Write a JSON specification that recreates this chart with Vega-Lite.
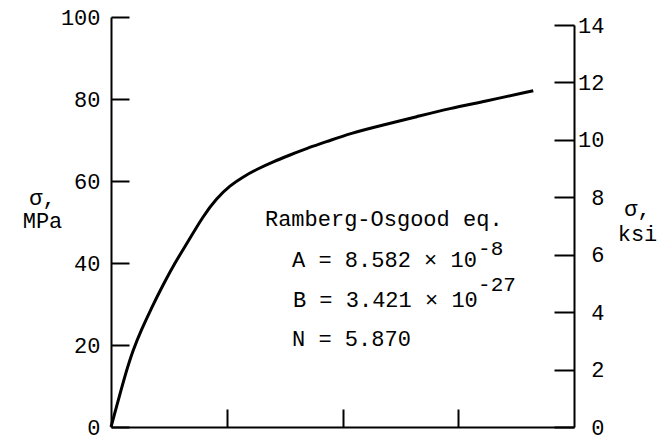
{
  "$schema": "https://vega.github.io/schema/vega-lite/v6.json",
  "width": 463,
  "height": 410,
  "autosize": {"type": "none"},
  "padding": {"left": 111, "top": 17, "right": 87, "bottom": 12},
  "background": "white",
  "config": {
    "view": {"stroke": null},
    "axis": {
      "grid": false,
      "domainColor": "black",
      "tickColor": "black",
      "labelColor": "black",
      "titleColor": "black",
      "labelFont": "Liberation Mono",
      "titleFont": "Liberation Mono",
      "labelFontSize": 22,
      "titleFontSize": 22,
      "titleFontWeight": "normal",
      "domainWidth": 2,
      "tickWidth": 2
    }
  },
  "layer": [
    {
      "layer": [
        {
          "data": {"values": [
            {"strain": 0, "stress": 0},
            {"strain": 0.06, "stress": 6.2},
            {"strain": 0.118, "stress": 12.27},
            {"strain": 0.19, "stress": 18.78},
            {"strain": 0.262, "stress": 23.66},
            {"strain": 0.348, "stress": 28.95},
            {"strain": 0.449, "stress": 34.63},
            {"strain": 0.55, "stress": 39.93},
            {"strain": 0.665, "stress": 45.2},
            {"strain": 0.797, "stress": 51.5},
            {"strain": 0.913, "stress": 55.8},
            {"strain": 1.028, "stress": 58.9},
            {"strain": 1.143, "stress": 61.05},
            {"strain": 1.259, "stress": 62.85},
            {"strain": 1.402, "stress": 64.71},
            {"strain": 1.546, "stress": 66.34},
            {"strain": 1.691, "stress": 67.98},
            {"strain": 1.864, "stress": 69.59},
            {"strain": 2.065, "stress": 71.63},
            {"strain": 2.352, "stress": 73.66},
            {"strain": 2.641, "stress": 75.68},
            {"strain": 2.929, "stress": 77.73},
            {"strain": 3.216, "stress": 79.34},
            {"strain": 3.648, "stress": 82.02}
          ]},
          "mark": {"type": "line", "color": "black", "strokeWidth": 3, "interpolate": "basis"},
          "encoding": {
            "x": {
              "field": "strain", "type": "quantitative",
              "scale": {"domain": [0, 4], "nice": false},
              "axis": {"values": [1, 2, 3], "labels": false, "tickSize": -18, "title": null}
            },
            "y": {
              "field": "stress", "type": "quantitative",
              "scale": {"domain": [0, 100], "nice": false},
              "axis": {
                "orient": "left",
                "values": [0, 20, 40, 60, 80, 100],
                "tickSize": -18,
                "labelPadding": 29,
                "title": ["σ,", "MPa"],
                "titleAngle": 0,
                "titleAlign": "center",
                "titleBaseline": "alphabetic",
                "titleX": -69,
                "titleY": 187,
                "titleLineHeight": 23
              }
            }
          }
        },
        {
          "data": {"values": [
            {"strain": 1.33, "stress": 49.0, "label": "Ramberg-Osgood eq."},
            {"strain": 1.564, "stress": 39.1, "label": "A = 8.582 × 10"},
            {"strain": 1.572, "stress": 29.27, "label": "B = 3.421 × 10"},
            {"strain": 1.564, "stress": 19.76, "label": "N = 5.870"}
          ]},
          "mark": {"type": "text", "align": "left", "baseline": "alphabetic", "font": "Liberation Mono", "fontSize": 22, "color": "black"},
          "encoding": {
            "x": {"field": "strain", "type": "quantitative"},
            "y": {"field": "stress", "type": "quantitative"},
            "text": {"field": "label"}
          }
        },
        {
          "data": {"values": [
            {"strain": 3.171, "stress": 41.95, "label": "-8"},
            {"strain": 3.171, "stress": 33.05, "label": "-27"}
          ]},
          "mark": {"type": "text", "align": "left", "baseline": "alphabetic", "font": "Liberation Mono", "fontSize": 21, "color": "black"},
          "encoding": {
            "x": {"field": "strain", "type": "quantitative"},
            "y": {"field": "stress", "type": "quantitative"},
            "text": {"field": "label"}
          }
        }
      ]
    },
    {
      "data": {"values": [{"ksi": 0}, {"ksi": 14}]},
      "mark": {"type": "point", "opacity": 0},
      "encoding": {
        "y": {
          "field": "ksi", "type": "quantitative",
          "scale": {"domain": [0, 14], "range": [410, 8], "nice": false},
          "axis": {
            "orient": "right",
            "values": [0, 2, 4, 6, 8, 10, 12, 14],
            "tickSize": -20,
            "labelAlign": "right",
            "labelPadding": 50,
            "title": ["σ,", "ksi"],
            "titleAngle": 0,
            "titleAlign": "center",
            "titleBaseline": "alphabetic",
            "titleX": 63,
            "titleY": 198,
            "titleLineHeight": 25
          }
        }
      }
    }
  ],
  "resolve": {"scale": {"y": "independent"}, "axis": {"y": "independent"}}
}
